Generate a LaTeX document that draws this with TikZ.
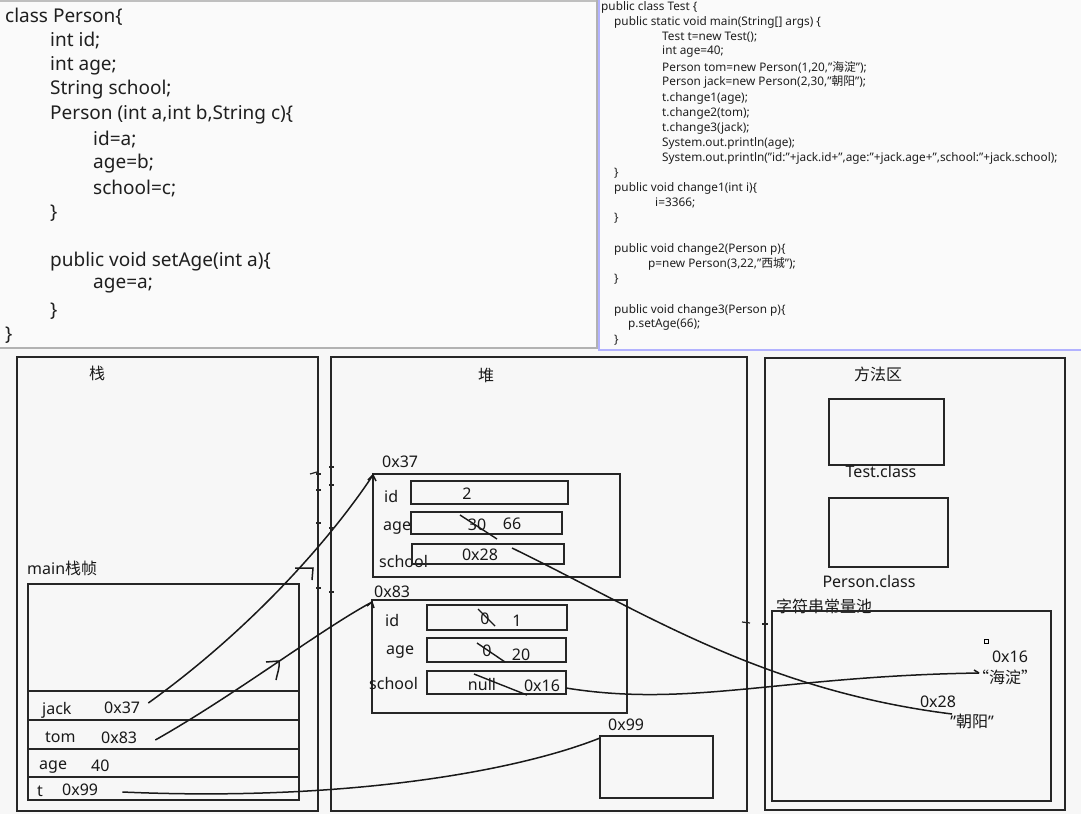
\documentclass[tikz,border=0pt]{standalone}
\usepackage{fontspec}
\setmainfont{Noto Sans}
\newfontfamily\cjk{Noto Sans CJK SC}
\begin{document}
\begin{tikzpicture}[x=1pt,y=-1pt,
  code/.style={anchor=west,inner sep=0pt,font=\fontsize{19}{21}\selectfont,text=black!88},
  rcode/.style={anchor=west,inner sep=0pt,font=\fontsize{11.8}{13}\selectfont,text=black!88},
  lbl/.style={inner sep=0pt,font=\fontsize{16}{18}\selectfont,text=black!90},
  lblw/.style={lbl,anchor=west},
  box/.style={draw=black!85,line width=1.6pt},
  fbox/.style={draw=black!85,line width=1.8pt},
  wire/.style={draw=black!90,line width=1.5pt},
  strike/.style={draw=black!90,line width=1.4pt},
  tick/.style={draw=black!85,line width=1.2pt}]
\useasboundingbox (0,0) rectangle (1081,814);
\fill[white!97!black] (0,0) rectangle (1081,814);
% top panels
\fill[white!98!black] (0,0) rectangle (597,347);
\draw[black!25,line width=1.5pt] (0,1) -- (597,1);
\draw[black!30,line width=2pt] (597,0) -- (597,348) -- (0,348);
\fill[white!98!black] (600,0) rectangle (1081,349);
\draw[blue!30!white,line width=1.5pt] (599,0) -- (599,350) -- (1081,350);
% left code
\node[code] (c1) at (5,17) {class Person\{};
\node[code] (c2) at (50,41) {int id;};
\node[code] (c3) at (50,66) {int age;};
\node[code] (c4) at (50,90) {String school;};
\node[code] (c5) at (50,115) {Person (int a,int b,String c)\{};
\node[code] (c6) at (93,140) {id=a;};
\node[code] (c7) at (93,164) {age=b;};
\node[code] (c8) at (93,189) {school=c;};
\node[code] (c9) at (50,213) {\}};
\node[code] (c10) at (50,262) {public void setAge(int a)\{};
\node[code] (c11) at (93,286) {age=a;};
\node[code] (c12) at (50,311) {\}};
\node[code] (c13) at (5,335) {\}};
% right code
\node[rcode] (r1) at (601,7) {public class Test \{};
\node[rcode] (r2) at (614,22) {public static void main(String[] args) \{};
\node[rcode] (r3) at (662,37) {Test t=new Test();};
\node[rcode] (r4) at (662,52) {int age=40;};
\node[rcode] (r5) at (662,67) {Person tom=new Person(1,20,"{\cjk 海淀}");};
\node[rcode] (r6) at (662,82) {Person jack=new Person(2,30,"{\cjk 朝阳}");};
\node[rcode] (r7) at (662,98) {t.change1(age);};
\node[rcode] (r8) at (662,113) {t.change2(tom);};
\node[rcode] (r9) at (662,128) {t.change3(jack);};
\node[rcode] (r10) at (662,143) {System.out.println(age);};
\node[rcode] (r11) at (662,158) {System.out.println("id:"+jack.id+",age:"+jack.age+",school:"+jack.school);};
\node[rcode] (r12) at (614,173) {\}};
\node[rcode] (r13) at (614,188) {public void change1(int i)\{};
\node[rcode] (r14) at (655,203) {i=3366;};
\node[rcode] (r15) at (614,218) {\}};
\node[rcode] (r16) at (614,249) {public void change2(Person p)\{};
\node[rcode] (r17) at (648,264) {p=new Person(3,22,"{\cjk 西城}");};
\node[rcode] (r18) at (614,279) {\}};
\node[rcode] (r19) at (614,310) {public void change3(Person p)\{};
\node[rcode] (r20) at (628,325) {p.setAge(66);};
\node[rcode] (r21) at (614,340) {\}};
% ===== stack =====
\draw[box] (17,357) rectangle (318,811);
\node[lbl] (stk) at (97,373) {\cjk 栈};
\node[lblw] (mainlbl) at (27,568) {main{\cjk 栈帧}};
\draw[box] (28,584) rectangle (299,800);
\draw[box] (28,691) -- (299,691);
\draw[box] (28,720) -- (300,720);
\draw[box] (28,749) -- (300,749);
\draw[box] (28,777) -- (299,777);
\node[lblw] (jack) at (42,710) {jack};
\node[lblw] (jackv) at (104,708) {0x37};
\node[lblw] (tom) at (45,737) {tom};
\node[lblw] (tomv) at (101,738) {0x83};
\node[lblw] (age) at (39,767) {age};
\node[lblw] (agev) at (91,766) {40};
\node[lblw] (t) at (37,791) {t};
\node[lblw] (tv) at (62,790) {0x99};
% ===== heap =====
\draw[box] (331,357) rectangle (747,811);
\node[lbl] (heap) at (486,375) {\cjk 堆};
% object 0x37
\node[lblw] (a37) at (382,462) {0x37};
\draw[box] (373,474) rectangle (620,577);
\coordinate (o37) at (373,475);
\node[lblw] (f1id) at (384,496) {id};
\draw[fbox] (411,481) rectangle (568,504);
\node[lbl] (f1idv) at (467,494) {2};
\node[lblw] (f1age) at (383,528) {age};
\draw[fbox] (411,512) rectangle (562,534);
\node[lbl] (f1a30) at (477,525) {30};
\node[lbl] (f1a66) at (512,524) {66};
\draw[strike] (460,515) -- (497,539);
\node[lblw] (f1sch) at (379,561) {school};
\draw[fbox] (412,544) rectangle (564,564);
\node[lbl] (f1s) at (480,555) {0x28};
\coordinate (s37) at (512,548);
% object 0x83
\node[lblw] (a83) at (374,592) {0x83};
\draw[box] (372,600) rectangle (627,713);
\coordinate (o83) at (372,602);
\node[lblw] (f2id) at (385,620) {id};
\draw[fbox] (427,605) rectangle (567,630);
\node[lbl] (f2id0) at (485,619) {0};
\node[lbl] (f2id1) at (517,621) {1};
\draw[strike] (478,609) -- (495,626);
\node[lblw] (f2age) at (386,652) {age};
\draw[fbox] (427,638) rectangle (566,662);
\node[lbl] (f2a0) at (487,651) {0};
\node[lbl] (f2a20) at (521,655) {20};
\draw[strike] (477,643) -- (505,662);
\node[lblw] (f2sch) at (369,683) {school};
\draw[fbox] (427,671) rectangle (566,694);
\node[lbl] (f2null) at (482,684) {null};
\node[lbl] (f2v) at (542,686) {0x16};
\draw[strike] (474,674) -- (527,695);
\coordinate (s83) at (566,688);
% object 0x99
\node[lblw] (a99) at (608,725) {0x99};
\draw[box] (600,736) rectangle (713,798);
\coordinate (o99) at (600,738);
% ===== method area =====
\draw[box] (765,358) rectangle (1065,810);
\node[lbl] (ma) at (878,374) {\cjk 方法区};
\draw[box] (829,399) rectangle (944,465);
\node[lbl] (tc) at (881,472) {Test.class};
\draw[box] (829,498) rectangle (948,567);
\node[lbl] (pc) at (869,582) {Person.class};
\node[lblw] (pool) at (776,606) {\cjk 字符串常量池};
\draw[box] (772,611) rectangle (1051,801);
\draw[line width=0.8pt] (984,639) rectangle (988,643);
\node[lbl] (h16) at (1010,657) {0x16};
\node[lbl] (hd) at (1005,677) {{\cjk “海淀”}};
\coordinate (hdw) at (979,673);
\node[lbl] (h28) at (938,702) {0x28};
\node[lbl] (cy) at (972,721) {"{\cjk 朝阳}"};
\coordinate (cyw) at (952,714);
% ===== connectors =====
\draw[wire] (jackv.east) ++(8,-5) .. controls (250,630) and (330,540) .. (o37);
\draw[wire] (tomv.east) ++(18,2) .. controls (235,695) and (320,630) .. (o83);
\draw[wire] (tv.east) ++(24,2) .. controls (350,802) and (520,770) .. (o99);
\draw[wire] (s37) .. controls (640,610) and (760,690) .. (cyw);
\draw[wire] (s83) .. controls (690,708) and (780,676) .. (hdw);
% hand-drawn arrow hooks and marks
\draw[wire] (368,480) -- (373,475) -- (376,481);
\draw[wire] (367,606) -- (372,602) -- (374,608);
\draw[wire] (295,568) -- (313,568) -- (312,580);
\draw[wire] (266,662) -- (279,661) .. controls (280,668) and (277,674) .. (276,680);
\draw[wire] (974,670) -- (979,673);
\foreach \yy in {474,490,523,588} {\draw[tick] (316,\yy) -- (321,\yy);}
\foreach \yy in {467,485,528,592} {\draw[tick] (329,\yy) -- (334,\yy);}
\draw[tick] (310,474) -- (317,472);
\draw[tick] (742,622) -- (750,623);
\draw[tick] (762,624) -- (768,624);
\end{tikzpicture}
\end{document}
